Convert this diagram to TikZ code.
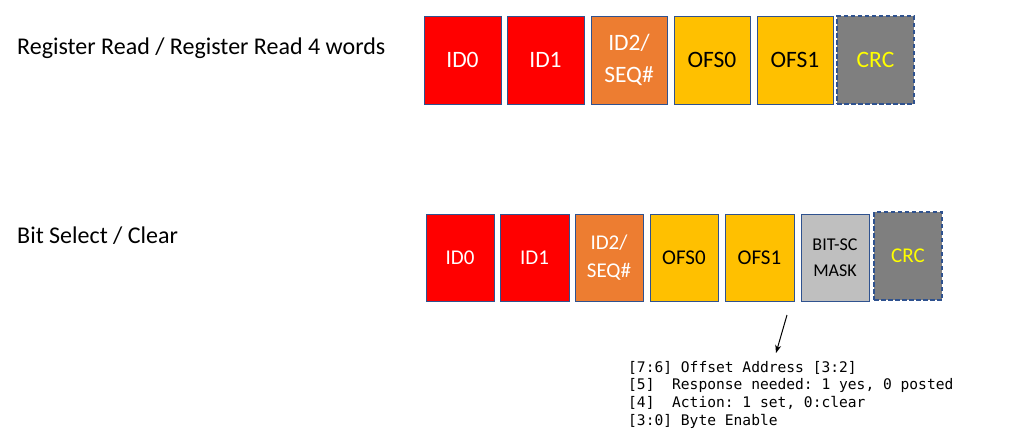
\documentclass[tikz,border=0pt]{standalone}
\usepackage{fontspec}
\setmainfont{Carlito}
\setmonofont{DejaVu Sans Mono}
\usetikzlibrary{arrows.meta}
\definecolor{cred}{HTML}{FF0000}
\definecolor{corange}{HTML}{ED7D31}
\definecolor{cyellow}{HTML}{FFC000}
\definecolor{cgray}{HTML}{7F7F7F}
\definecolor{clgray}{HTML}{BFBFBF}
\definecolor{cborder}{HTML}{2F528F}
\definecolor{ctext}{HTML}{FFFF00}
\newcommand\pbox[7]{\node[fieldbox,#6,minimum width={(#4-#2)*1pt},minimum height={(#5-#3)*1pt}] (#1) at (#2,#3) {#7};}
\begin{document}
\begin{tikzpicture}[x=1pt,y=-1pt,
  fieldbox/.style={draw=cborder, line width=1pt, inner sep=0pt, outer sep=0pt, anchor=north west, align=center},
  big/.style={font=\fontsize{23.5}{32}\selectfont},
  small/.style={font=\fontsize{21}{28}\selectfont},
  tiny/.style={font=\fontsize{18}{26}\selectfont},
  redf/.style={fill=cred, text=white},
  orf/.style={fill=corange, text=white},
  yef/.style={fill=cyellow, text=black},
  lgf/.style={fill=clgray, text=black},
  crcf/.style={fill=cgray, text=ctext, line width=1.6pt, dash pattern=on 4.5pt off 2.5pt},
  title/.style={font=\fontsize{24}{29}\selectfont, anchor=base west, inner sep=0pt},
  note/.style={font=\ttfamily\fontsize{14.6}{17.6}\selectfont, anchor=north west, align=left, inner sep=0pt}
]
\useasboundingbox (0,0) rectangle (1013,439);

\node[title] (t1) at (17,54) {Register Read / Register Read 4 words};
\node[title] (t2) at (17,243) {Bit Select / Clear};

% top row
\pbox{a0}{424}{16}{501}{104}{big,redf}{ID0}
\pbox{a1}{507}{16}{584}{104}{big,redf}{ID1}
\pbox{a2}{591}{16}{667}{104}{big,orf}{ID2/\\SEQ\#}
\pbox{a3}{674}{16}{750}{104}{big,yef}{OFS0}
\pbox{a4}{757}{16}{833}{104}{big,yef}{OFS1}
\pbox{a5}{837}{16}{914}{104}{big,crcf}{CRC}

% bottom row
\pbox{b0}{426}{214}{494}{301}{small,redf}{ID0}
\pbox{b1}{500}{214}{569}{301}{small,redf}{ID1}
\pbox{b2}{575}{214}{643}{301}{small,orf}{ID2/\\SEQ\#}
\pbox{b3}{650}{214}{718}{301}{small,yef}{OFS0}
\pbox{b4}{725}{214}{794}{301}{small,yef}{OFS1}
\pbox{b5}{801}{214}{869}{301}{tiny,lgf}{BIT-SC\\MASK}
\pbox{b6}{874}{212}{942}{300}{small,crcf}{CRC}

\coordinate (as) at (787,315);
\coordinate (ae) at (776,353);
\draw[line width=1pt,-{Stealth[length=8pt,width=6pt]}] (as) -- (ae);

\node[note] (n) at (628,361) {[7:6] Offset Address [3:2]\\\relax
[5]\ \ Response needed: 1 yes, 0 posted\\\relax
[4]\ \ Action: 1 set, 0:clear\\\relax
[3:0] Byte Enable};
\end{tikzpicture}
\end{document}
